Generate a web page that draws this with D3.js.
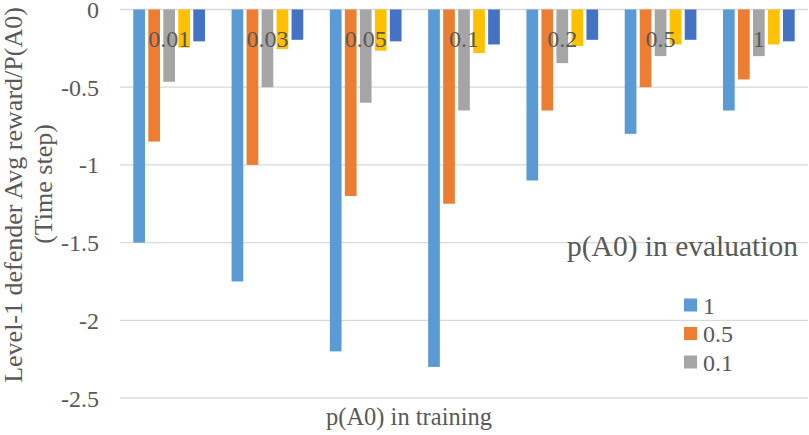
<!DOCTYPE html>
<html>
<head>
<meta charset="utf-8">
<script src="https://cdn.jsdelivr.net/npm/d3@7"></script>
<style>
  body { margin: 0; background: #fff; }
</style>
</head>
<body>
<svg id="chart" width="809" height="435"></svg>
<script>
// categories: p(A0) in training
const categories = ["0.01", "0.03", "0.05", "0.1", "0.2", "0.5", "1"];
// series: p(A0) in evaluation
const seriesNames = ["1", "0.5", "0.1", "0.05", "0.01"];
const seriesColors = ["#5B9BD5", "#ED7D31", "#A5A5A5", "#FFC000", "#4472C4"];
const legendShown = ["1", "0.5", "0.1"];

const values1   = [-1.5, -1.75, -2.2, -2.3, -1.1, -0.8, -0.65];
const values05  = [-0.85, -1.0, -1.2, -1.25, -0.65, -0.5, -0.45];
const values01  = [-0.465, -0.5, -0.6, -0.65, -0.345, -0.3, -0.3];
const values005 = [-0.245, -0.255, -0.265, -0.28, -0.235, -0.225, -0.225];
const values001 = [-0.205, -0.195, -0.205, -0.225, -0.195, -0.195, -0.205];
const allValues = [values1, values05, values01, values005, values001];

const yTicks = [0, -0.5, -1, -1.5, -2, -2.5];

const FONT = "Liberation Serif";
const TEXT_COLOR = "#595959";

const svg = d3.select("#chart");

const MARGIN = { top: 9.5, left: 120, right: 1, bottom: 37 };
const W = 809, H = 435;

const x = d3.scaleBand()
    .domain(categories)
    .range([MARGIN.left, W - MARGIN.right])
    .paddingInner(0)
    .paddingOuter(0);

const xs = d3.scaleBand()
    .domain(seriesNames)
    .range([13.3, x.bandwidth() - 13.3])
    .paddingInner(0.22);

const y = d3.scaleLinear()
    .domain([0, -2.5])
    .range([MARGIN.top, H - MARGIN.bottom]);

function label(sel, size) {
    sel.attr("font-family", FONT)
        .attr("font-size", size)
        .attr("fill", TEXT_COLOR);
}

// gridlines
svg.append("g")
    .selectAll("line")
    .data(yTicks)
    .join("line")
    .attr("x1", MARGIN.left)
    .attr("x2", W - MARGIN.right)
    .attr("y1", d => y(d))
    .attr("y2", d => y(d))
    .attr("stroke", "#D9D9D9")
    .attr("stroke-width", 1.3);

// y tick labels, placed from the scale
svg.append("g")
    .selectAll("text")
    .data(yTicks)
    .join("text")
    .attr("x", MARGIN.left - 21)
    .attr("y", d => y(d) + 8.5)
    .attr("text-anchor", "end")
    .call(label, 24)
    .text(d => String(d));

// bars
const groups = svg.append("g")
    .selectAll("g")
    .data(categories)
    .join("g")
    .attr("transform", d => `translate(${x(d)},0)`);

groups.selectAll("rect")
    .data((d, i) => seriesNames.map((s, j) => ({ s, j, v: allValues[j][i] })))
    .join("rect")
    .attr("x", d => xs(d.s))
    .attr("width", xs.bandwidth())
    .attr("y", y(0))
    .attr("height", d => y(d.v) - y(0))
    .attr("fill", d => seriesColors[d.j]);

// category labels near the top
groups.append("text")
    .attr("x", x.bandwidth() / 2)
    .attr("y", 47)
    .attr("text-anchor", "middle")
    .call(label, 24)
    .text(d => d);

// axis titles
svg.append("text")
    .attr("x", 409)
    .attr("y", 425)
    .attr("text-anchor", "middle")
    .call(label, 24.5)
    .text("p(A0) in training");

svg.append("text")
    .attr("transform", "translate(22,195) rotate(-90)")
    .attr("text-anchor", "middle")
    .call(label, 26)
    .text("Level-1 defender Avg reward/P(A0)");

svg.append("text")
    .attr("transform", "translate(52,184) rotate(-90)")
    .attr("text-anchor", "middle")
    .call(label, 26)
    .text("(Time step)");

// legend
svg.append("text")
    .attr("x", 567)
    .attr("y", 256)
    .call(label, 29.5)
    .text("p(A0) in evaluation");

const legend = svg.append("g")
    .selectAll("g")
    .data(legendShown)
    .join("g")
    .attr("transform", (d, i) => `translate(684,${305 + i * 28.5})`);

legend.append("rect")
    .attr("x", 0)
    .attr("y", -6.5)
    .attr("width", 13)
    .attr("height", 13)
    .attr("fill", d => seriesColors[seriesNames.indexOf(d)]);

legend.append("text")
    .attr("x", 19)
    .attr("y", 8.5)
    .call(label, 24)
    .text(d => d);
</script>
</body>
</html>
